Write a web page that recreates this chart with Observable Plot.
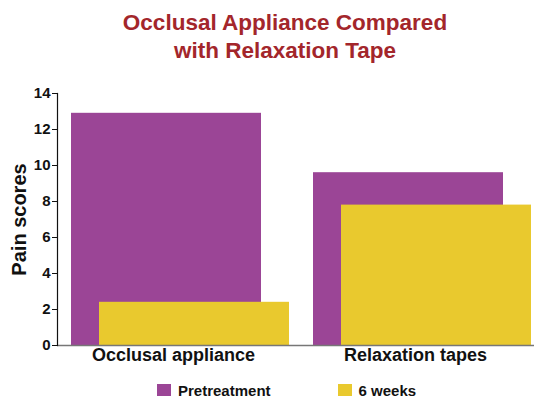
<!DOCTYPE html>
<html>
<head>
<meta charset="utf-8">
<script src="https://cdn.jsdelivr.net/npm/d3@7"></script>
<script src="https://cdn.jsdelivr.net/npm/@observablehq/plot@0.6"></script>
<style>
  body { margin: 0; background: #fff; font-family: "Liberation Sans", Arial, sans-serif; }
  #title { height: 66px; box-sizing: border-box; padding-top: 9px; text-align: center; color: #a3262b;
           font-weight: bold; font-size: 22.5px; line-height: 28px; width: 534px; padding-left: 36px; }
  #legend { display: flex; align-items: center; height: 24px; padding-left: 157px; padding-top: 4px; box-sizing: border-box; font-weight: bold; font-size: 15px; color: #111; }
  #legend .sw { width: 14px; height: 12px; margin-right: 7px; }
  #legend .item { display: flex; align-items: center; }
  [aria-label="y-axis label"], [aria-label="y-axis label"] text { font-size: 20px !important; }
</style>
</head>
<body>
<div id="title">Occlusal Appliance Compared<br>with Relaxation Tape</div>
<div id="chart"></div>
<div id="legend"></div>
<script>
const categories = ["Occlusal appliance", "Relaxation tapes"];
const pretreatment = [12.9, 9.6];
const sixWeeks = [2.4, 7.8];
const seriesNames = ["Pretreatment", "6 weeks"];
const colors = ["#9b4596", "#e9c92e"];
const yTicks = [0, 2, 4, 6, 8, 10, 12, 14];

const pre = categories.map((c, i) => ({category: c, value: pretreatment[i]}));
const six = categories.map((c, i) => ({category: c, value: sixWeeks[i]}));

const chart = Plot.plot({
  width: 534,
  height: 310,
  marginLeft: 57,
  marginRight: 0,
  marginTop: 27,
  marginBottom: 31,
  style: {fontFamily: "Liberation Sans, Arial, sans-serif", color: "#111", fontWeight: "bold"},
  x: {domain: categories, paddingInner: 0.215, paddingOuter: 0.093, align: 0.31},
  y: {domain: [0, 14]},
  marks: [
    Plot.barY(pre, {x: "category", y: "value", fill: colors[0]}),
    Plot.barY(six, {x: "category", y: "value", fill: colors[1], dx: 28}),
    Plot.ruleY([0], {stroke: "#777", strokeWidth: 1.5}),
    Plot.frame({anchor: "left", stroke: "#111", strokeWidth: 1.2}),
    Plot.axisY({ticks: yTicks, tickSize: 5, tickPadding: 2, fontSize: 15, fontWeight: "bold",
      label: "Pain scores", labelAnchor: "center", labelArrow: "none", labelOffset: 46}),
    Plot.axisX({tickSize: 0, tickPadding: 3, fontSize: 18, fontWeight: "bold", dx: 7, label: null})
  ]
});
document.getElementById("chart").appendChild(chart);

const legend = document.getElementById("legend");
seriesNames.forEach((name, i) => {
  const item = document.createElement("div");
  item.className = "item";
  if (i > 0) item.style.marginLeft = "67px";
  const sw = document.createElement("div");
  sw.className = "sw";
  sw.style.background = colors[i];
  const t = document.createElement("span");
  t.textContent = name;
  item.appendChild(sw);
  item.appendChild(t);
  legend.appendChild(item);
});
</script>
</body>
</html>
